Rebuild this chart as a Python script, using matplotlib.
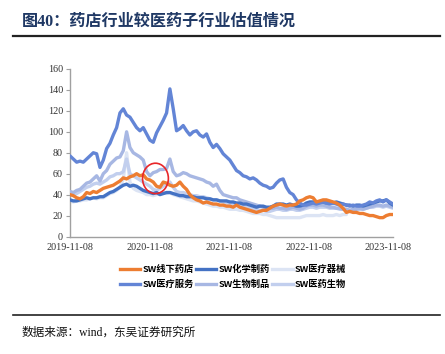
import matplotlib
matplotlib.use("Agg")
import matplotlib.pyplot as plt
import matplotlib.dates as mdates
from matplotlib.patches import Ellipse
from matplotlib.lines import Line2D
import pandas as pd

START = "2019-11-08"
END = "2023-12-01"

names = ["SW线下药店", "SW化学制药", "SW医疗器械", "SW医疗服务", "SW生物制品", "SW医药生物"]
colors = ["#ED7D31", "#4472C4", "#DCE4F4", "#6385D6", "#A7B7E3", "#C2CFEE"]

pharmacy = [40, 39, 37, 36, 38, 42, 41, 43, 42, 44, 46, 47, 48, 49, 51, 53, 56, 55, 57, 58,
            60, 58, 59, 55, 54, 52, 48, 47, 52, 51, 49, 48, 49, 52, 48, 45, 40, 37, 35, 34,
            32, 33, 32, 31, 31, 30, 30, 29, 29, 28, 30, 28, 27, 26, 25, 24, 23, 24, 25, 25,
            27, 29, 30, 31, 30, 29, 30, 30, 31, 34, 35, 37, 38, 37, 33, 34, 35, 35, 34, 33,
            32, 30, 27, 23, 24, 23, 23, 22, 22, 21, 20, 20, 19, 18, 18, 20, 21, 21]

chem = [35, 34, 34, 35, 36, 37, 36, 37, 37, 38, 38, 40, 42, 43, 45, 47, 49, 50, 48, 49,
        48, 46, 44, 43, 42, 41, 42, 40, 41, 42, 42, 41, 40, 39, 39, 38, 38, 38, 37, 37,
        37, 36, 36, 35, 35, 34, 34, 34, 33, 33, 32, 32, 31, 31, 30, 29, 28, 29, 29, 28,
        28, 29, 31, 31, 31, 30, 31, 30, 29, 29, 30, 32, 33, 33, 32, 33, 33, 32, 33, 32,
        33, 32, 31, 30, 30, 29, 30, 30, 29, 30, 31, 32, 33, 34, 34, 35, 32, 30]

device = [34, 33, 34, 34, 35, 35, 36, 37, 36, 37, 37, 39, 41, 42, 44, 47, 55, 80, 52, 46,
          44, 43, 42, 40, 40, 39, 40, 41, 42, 41, 42, 40, 39, 38, 37, 36, 35, 34, 34, 33,
          32, 31, 30, 29, 29, 28, 28, 27, 26, 26, 26, 25, 25, 24, 23, 22, 22, 22, 21, 21,
          20, 19, 18, 18, 18, 18, 18, 18, 18, 18, 19, 20, 20, 20, 20, 20, 21, 20, 20, 20,
          21, 20, 21, 21]

service = [77, 74, 71, 72, 71, 74, 77, 80, 79, 66, 73, 84, 89, 97, 104, 118, 122, 116, 114, 109,
           104, 101, 104, 98, 92, 90, 99, 105, 111, 118, 141, 122, 101, 103, 106, 101, 97, 100, 101, 97,
           95, 98, 90, 85, 88, 84, 79, 76, 73, 68, 63, 61, 58, 57, 55, 56, 54, 51, 49, 48,
           46, 47, 51, 54, 55, 47, 42, 40, 35, 32, 30, 30, 31, 32, 31, 32, 33, 32, 31, 32,
           31, 30, 31, 30, 29, 30, 29, 29, 30, 31, 33, 32, 34, 35, 33, 35, 33, 31]

bio = [43, 42, 44, 45, 48, 51, 52, 55, 58, 53, 60, 63, 69, 72, 75, 76, 82, 100, 85, 80,
       78, 76, 73, 62, 58, 61, 62, 64, 64, 65, 74, 62, 58, 59, 61, 60, 58, 57, 56, 55,
       54, 52, 51, 48, 50, 44, 40, 39, 38, 37, 37, 35, 34, 33, 32, 31, 30, 29, 28, 27,
       27, 27, 28, 27, 27, 26, 27, 28, 27, 26, 27, 29, 30, 30, 29, 30, 30, 29, 28, 28,
       27, 27, 26, 26, 25, 26, 26, 27, 26, 27, 28, 29, 30, 30, 29, 30, 29, 28]

pharma = [41, 40, 41, 43, 45, 47, 48, 50, 51, 50, 52, 54, 57, 58, 60, 60, 62, 74, 60, 58,
          56, 54, 52, 50, 48, 45, 44, 46, 48, 50, 52, 47, 43, 42, 42, 41, 40, 39, 39, 38,
          38, 37, 36, 35, 35, 34, 33, 32, 31, 31, 30, 29, 29, 28, 27, 26, 26, 25, 25, 24,
          24, 25, 26, 26, 25, 25, 26, 26, 25, 25, 26, 27, 28, 28, 27, 28, 28, 28, 27, 27,
          27, 26, 26, 26, 25, 25, 26, 26, 26, 27, 28, 28, 29, 29, 28, 29, 28, 27]

series = [pharmacy, chem, device, service, bio, pharma]

tick_dates = ["2019-11-08", "2020-11-08", "2021-11-08", "2022-11-08", "2023-11-08"]
y_ticks = [0, 20, 40, 60, 80, 100, 120, 140, 160]

title_text = "图40：药店行业较医药子行业估值情况"
source_text = "数据来源：wind，东吴证券研究所"

full_dates = pd.date_range(START, END, periods=len(pharmacy))

fig = plt.figure(figsize=(4.45, 3.54), dpi=100)
fig.patch.set_facecolor("white")
ax = fig.add_axes([70 / 445, 1 - 236.5 / 354, (393 - 70) / 445, (236.5 - 69) / 354])

draw_order = [2, 5, 4, 1, 3, 0]
for i in draw_order:
    vals = series[i]
    d = full_dates[:len(vals)]
    ax.plot(d, vals, color=colors[i], lw=2.4, solid_joinstyle="round",
            solid_capstyle="round", zorder=2 + draw_order.index(i))

ax.set_ylim(0, 160)
ax.set_xlim(pd.Timestamp(START), pd.Timestamp(END))
ax.set_yticks(y_ticks)
ax.set_xticks([pd.Timestamp(t) for t in tick_dates])
ax.set_xticklabels(tick_dates)

for s in ["top", "right"]:
    ax.spines[s].set_visible(False)
for s in ["left", "bottom"]:
    ax.spines[s].set_color("#A0A0A0")
    ax.spines[s].set_linewidth(1.0)

ax.tick_params(axis="y", length=3, width=0.8, color="#A0A0A0", pad=2,
               labelsize=7.3, labelcolor="#333333")
ax.tick_params(axis="x", length=0, pad=5, labelsize=7.3, labelcolor="#333333")
for lab in ax.get_xticklabels() + ax.get_yticklabels():
    lab.set_fontfamily("Liberation Serif")

# red circle annotation
cx = pd.Timestamp(START) + pd.Timedelta(days=(156 - 70) / 80 * 365.25)
ell = Ellipse((mdates.date2num(cx), 55.5), width=(26 / 80) * 365.25, height=29,
              fill=False, edgecolor="#E8262A", lw=1.2, zorder=20)
ax.add_patch(ell)

# legend
order = [0, 3, 1, 4, 2, 5]
leg_handles = [Line2D([0], [0], color=colors[i], lw=2.4) for i in order]
leg_labels = [names[i] for i in order]
fig.legend(leg_handles, leg_labels, ncol=3, loc="center",
           bbox_to_anchor=(233 / 445, 1 - 277 / 354), frameon=False,
           prop={"family": ["Noto Sans CJK SC"], "size": 6.7, "weight": "bold"},
           handlelength=2.2, handletextpad=0.25, columnspacing=0.25,
           labelspacing=0.6, borderpad=0)

# title and lines
fig.text(22 / 445, 1 - 22 / 354, title_text, ha="left", va="center",
         fontsize=11.6, fontweight="bold", color="#1F3864",
         family=["Liberation Serif", "Noto Sans CJK SC"])
fig.add_artist(Line2D([13 / 445, 440 / 445], [1 - 36 / 354, 1 - 36 / 354],
                      color="#222222", lw=1.6, transform=fig.transFigure))
fig.add_artist(Line2D([13 / 445, 440 / 445], [1 - 315 / 354, 1 - 315 / 354],
                      color="#222222", lw=1.2, transform=fig.transFigure))
fig.text(22 / 445, 1 - 333 / 354, source_text, ha="left", va="center",
         fontsize=8.4, color="#111111",
         family=["Liberation Serif", "Noto Sans CJK SC"])

fig.savefig("out.png", dpi=100, facecolor="white")
